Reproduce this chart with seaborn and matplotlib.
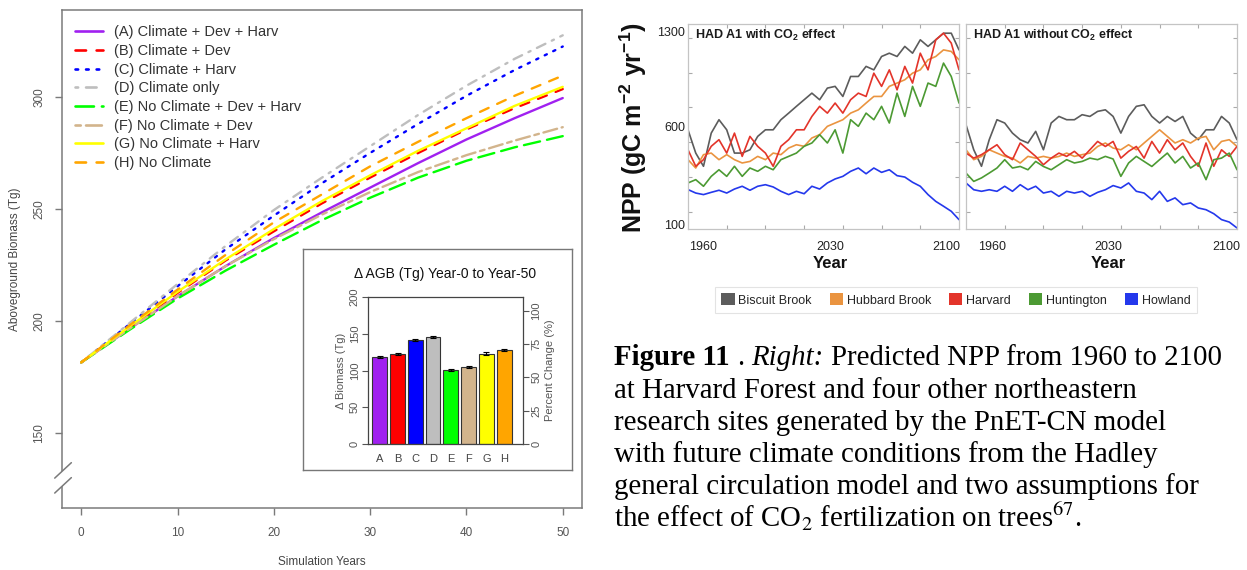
import numpy as np
import pandas as pd
import matplotlib
matplotlib.use("Agg")
import matplotlib.pyplot as plt
import seaborn as sns
from matplotlib.patches import Patch, Polygon
from matplotlib.lines import Line2D

# ---------------- data: left chart (biomass scenarios) ----------------
sim_years = [0, 5, 10, 15, 20, 25, 30, 35, 40, 45, 50]
agb_A = [181.5, 196.5, 211.0, 224.5, 237.0, 248.5, 259.5, 270.5, 281.0, 290.5, 299.5]
agb_B = [181.5, 197.0, 212.5, 227.0, 240.0, 252.5, 264.0, 275.0, 285.5, 295.0, 303.5]
agb_C = [181.5, 198.5, 215.5, 232.0, 247.0, 261.5, 275.0, 288.0, 300.5, 312.0, 322.5]
agb_D = [181.5, 199.0, 216.5, 233.5, 249.5, 264.0, 278.0, 292.0, 305.0, 317.0, 327.5]
agb_E = [181.5, 196.0, 210.0, 222.5, 234.0, 245.0, 255.0, 264.0, 271.5, 277.5, 282.5]
agb_F = [181.5, 196.5, 211.0, 224.5, 236.5, 247.5, 257.5, 266.5, 274.0, 280.5, 286.5]
agb_G = [181.5, 197.5, 213.0, 227.5, 241.0, 253.5, 265.0, 276.0, 286.0, 296.0, 304.5]
agb_H = [181.5, 198.0, 214.0, 229.5, 244.0, 256.5, 269.0, 280.0, 290.5, 300.5, 309.5]

scenario_codes = ["A", "B", "C", "D", "E", "F", "G", "H"]
scenario_labels = ["(A) Climate + Dev + Harv", "(B) Climate + Dev", "(C) Climate + Harv",
                   "(D) Climate only", "(E) No Climate + Dev + Harv", "(F) No Climate + Dev",
                   "(G) No Climate + Harv", "(H) No Climate"]
scenario_colors = ["#A020F0", "#FF0000", "#0000FF", "#BEBEBE", "#00FF00", "#D2B48C", "#FFFF00", "#FFA500"]

# inset bars: change in AGB year 0 -> year 50
delta_agb = [118, 122, 141, 146, 101, 105, 123, 128]
delta_err = [1.5, 1.5, 1.5, 1.5, 1.5, 1.5, 1.5, 1.5]
initial_agb = 181.5

# ---------------- data: right chart (NPP) ----------------
npp_years = list(range(1960, 2101, 4))
site_names = ["Biscuit Brook", "Hubbard Brook", "Harvard", "Huntington", "Howland"]
site_colors = ["#5C5C5C", "#EA9440", "#E3342A", "#4C9A33", "#2438EC"]

co2_biscuit = [671, 537, 461, 652, 729, 671, 537, 537, 556, 633, 671, 671, 729, 767, 806, 844, 882, 844,
               911, 921, 863, 978, 978, 1036, 1016, 1093, 1112, 1093, 1151, 1112, 1189, 1151, 1189, 1227, 1227, 1131]
co2_hubbard = [499, 451, 528, 537, 499, 528, 499, 480, 489, 518, 499, 537, 528, 566, 585, 576, 624, 643,
               691, 710, 729, 767, 786, 825, 863, 863, 921, 940, 959, 997, 1016, 1074, 1093, 1131, 1122, 1074]
co2_harvard = [556, 461, 499, 576, 614, 537, 652, 518, 633, 576, 537, 461, 576, 614, 671, 671, 748, 806,
               767, 825, 767, 844, 882, 863, 997, 921, 1016, 901, 1036, 940, 1112, 1016, 1189, 1227, 1170, 1016]
co2_huntington = [365, 384, 346, 403, 441, 403, 461, 403, 451, 432, 461, 441, 499, 518, 537, 576, 595, 643,
                  595, 671, 537, 729, 691, 767, 729, 806, 710, 882, 748, 921, 806, 940, 921, 1055, 978, 825]
co2_howland = [327, 307, 298, 311, 323, 307, 330, 346, 323, 346, 355, 342, 317, 298, 317, 303, 346, 330,
               365, 388, 403, 432, 451, 418, 451, 426, 441, 407, 399, 369, 346, 298, 259, 231, 202, 154]

noco2_biscuit = [700, 556, 461, 614, 729, 710, 652, 614, 595, 662, 556, 710, 748, 729, 729, 758, 748, 777,
                 786, 748, 652, 748, 806, 815, 748, 710, 748, 719, 748, 652, 614, 671, 671, 748, 710, 614]
noco2_hubbard = [556, 499, 518, 556, 537, 518, 508, 480, 518, 508, 518, 508, 518, 537, 518, 528, 537, 575,
                 595, 566, 556, 585, 556, 595, 633, 671, 633, 595, 614, 595, 623, 633, 556, 604, 614, 575]
noco2_harvard = [537, 508, 528, 556, 585, 528, 499, 595, 556, 518, 470, 508, 537, 518, 547, 508, 556, 604,
                 575, 604, 508, 547, 575, 508, 604, 537, 614, 556, 595, 518, 461, 595, 461, 556, 518, 575]
noco2_huntington = [422, 374, 394, 422, 451, 499, 451, 460, 441, 489, 460, 441, 470, 499, 480, 489, 508, 499,
                    518, 503, 403, 480, 518, 489, 460, 499, 537, 480, 518, 451, 480, 384, 499, 508, 537, 441]
noco2_howland = [365, 326, 317, 326, 317, 346, 317, 355, 326, 346, 307, 317, 288, 317, 307, 317, 288, 311,
                 326, 350, 336, 365, 317, 307, 269, 317, 259, 279, 240, 250, 221, 211, 188, 154, 140, 106]

panel_titles = [r"HAD A1 with CO$_{\mathbf{2}}$ effect", r"HAD A1 without CO$_{\mathbf{2}}$ effect"]

caption_first_runs = [("Figure 11", "bold", "normal"), (".", "normal", "normal"),
                      ("Right:", "normal", "italic"),
                      ("Predicted NPP from 1960 to 2100", "normal", "normal")]
caption_lines = [
    "at Harvard Forest and four other northeastern",
    "research sites generated by the PnET-CN model",
    "with future climate conditions from the Hadley",
    "general circulation model and two assumptions for",
    r"the effect of CO$_{\mathrm{2}}$ fertilization on trees$^{\mathrm{67}}$.",
]

# ---------------- style ----------------
sns.set_theme(style="white")
plt.rcParams["font.family"] = ["Liberation Sans", "DejaVu Sans"]
plt.rcParams["mathtext.fontset"] = "custom"
plt.rcParams["mathtext.rm"] = "Liberation Sans"
plt.rcParams["mathtext.bf"] = "Liberation Sans:bold"
plt.rcParams["mathtext.it"] = "Liberation Sans:italic"
plt.rcParams["lines.dash_capstyle"] = "round"
plt.rcParams["lines.solid_capstyle"] = "round"

W, H = 1247, 570
fig = plt.figure(figsize=(W / 100, H / 100), dpi=100)
fig.patch.set_facecolor("white")


def box(l, t, r, b):
    return [l / W, 1 - b / H, (r - l) / W, (b - t) / H]


# ================= LEFT: biomass lines =================
ax = fig.add_axes(box(62, 10, 582, 508))
series = [agb_A, agb_B, agb_C, agb_D, agb_E, agb_F, agb_G, agb_H]
df = pd.DataFrame({
    "year": sim_years * len(series),
    "agb": sum(series, []),
    "scenario": np.repeat(scenario_codes, len(sim_years)),
})
dash_styles = ["", (4, 4), (1, 3), (1, 3, 4, 3), (7, 3), (2, 2, 6, 2), "", (4, 4)]
sns.lineplot(data=df, x="year", y="agb", hue="scenario", style="scenario",
             palette=dict(zip(scenario_codes, scenario_colors)),
             dashes=dict(zip(scenario_codes, dash_styles)),
             linewidth=1.7, legend=False, ax=ax, estimator=None, sort=False)

axis_gray = "#7A7A7A"
ax.set_xlim(-2, 52)
ax.set_ylim(116.5, 338.8)
ax.set_xticks([0, 10, 20, 30, 40, 50])
ax.set_yticks([150, 200, 250, 300])
for s in ax.spines.values():
    s.set_visible(True)
    s.set_color(axis_gray)
    s.set_linewidth(1.1)
ax.tick_params(axis="both", direction="out", length=5, width=1, color=axis_gray,
               labelcolor="#555555", labelsize=8.5, bottom=True, left=True)
ax.tick_params(axis="x", pad=9)
ax.tick_params(axis="y", pad=7)
plt.setp(ax.get_yticklabels(), rotation=90, va="center")
ax.set_xlabel("Simulation Years", fontsize=8.5, color="#444444", labelpad=12)
ax.set_ylabel("Aboveground Biomass (Tg)", fontsize=8.5, color="#444444", labelpad=9)

handles = []
for c, d in zip(scenario_colors, dash_styles):
    if d == "":
        handles.append(Line2D([0], [0], color=c, lw=1.9, linestyle="-"))
    else:
        handles.append(Line2D([0], [0], color=c, lw=1.9, linestyle=(0, d)))
leg = ax.legend(handles, scenario_labels, loc="upper left", bbox_to_anchor=(0.025, 0.969),
                frameon=False, fontsize=10.5, handlelength=1.9, handletextpad=0.8,
                labelspacing=0.32, borderaxespad=0, borderpad=0)
for t in leg.get_texts():
    t.set_color("#333333")

# axis break on the y axis
tr = ax.transAxes
ax.add_patch(Polygon([(-0.014, 0.030), (0.018, 0.061), (0.018, 0.091), (-0.014, 0.060)],
                     closed=True, facecolor="white", edgecolor="none", transform=tr,
                     clip_on=False, zorder=5))
for y0 in (0.030, 0.060):
    ax.add_line(Line2D([-0.014, 0.018], [y0, y0 + 0.031], transform=tr, color=axis_gray,
                       lw=1.1, clip_on=False, zorder=6))

# ---------------- inset bar chart ----------------
frame = fig.add_axes(box(303, 249, 572, 470))
frame.set_xticks([])
frame.set_yticks([])
frame.set_facecolor("white")
for s in frame.spines.values():
    s.set_visible(True)
    s.set_color("#777777")
    s.set_linewidth(1.0)
frame.set_zorder(3)

axb = fig.add_axes(box(368, 297, 523, 444))
axb.set_zorder(4)
sns.barplot(x=scenario_codes, y=delta_agb, hue=scenario_codes,
            palette=dict(zip(scenario_codes, scenario_colors)), legend=False,
            saturation=1, width=0.83, edgecolor="#333333", linewidth=0.8, ax=axb)
axb.errorbar(range(len(scenario_codes)), delta_agb, yerr=delta_err, fmt="none",
             ecolor="black", elinewidth=0.8, capsize=2, capthick=0.8)
axb.set_xlim(-0.66, 8.06)
axb.set_ylim(0, 200)
axb.set_yticks([0, 50, 100, 150, 200])
for s in axb.spines.values():
    s.set_visible(True)
    s.set_color("#444444")
    s.set_linewidth(0.9)
axb.tick_params(axis="y", direction="out", length=4, width=0.8, color="#555555",
                labelsize=8, labelcolor="#555555", left=True, pad=2)
axb.tick_params(axis="x", length=0, labelsize=8, labelcolor="#444444", pad=7)
plt.setp(axb.get_yticklabels(), rotation=90, va="center")
axb.set_ylabel("\u0394 Biomass (Tg)", fontsize=8, color="#555555", labelpad=3)
axb.set_xlabel("")
axb.set_title("\u0394 AGB (Tg) Year-0 to Year-50", fontsize=10, color="#111111", pad=14)

axb2 = axb.twinx()
axb2.set_zorder(5)
axb2.set_ylim(0, 200 / initial_agb * 100)
axb2.set_yticks([0, 25, 50, 75, 100])
axb2.tick_params(axis="y", direction="out", length=4, width=0.8, color="#555555",
                 labelsize=8, labelcolor="#555555", right=True, pad=2)
plt.setp(axb2.get_yticklabels(), rotation=90, va="center")
axb2.set_ylabel("Percent Change (%)", fontsize=8, color="#555555", labelpad=3)
for s in axb2.spines.values():
    s.set_visible(False)

# ================= RIGHT: NPP panels =================
panel_data = [
    [co2_biscuit, co2_hubbard, co2_harvard, co2_huntington, co2_howland],
    [noco2_biscuit, noco2_hubbard, noco2_harvard, noco2_huntington, noco2_howland],
]
panel_boxes = [(688, 24, 959, 229), (966, 24, 1237, 229)]
year_label_pos = [[0.055, 0.525, 0.955], [0.095, 0.525, 0.962]]

for i, (pb, pdat) in enumerate(zip(panel_boxes, panel_data)):
    axp = fig.add_axes(box(*pb))
    dfn = pd.DataFrame({
        "year": npp_years * len(site_names),
        "npp": sum(pdat, []),
        "site": np.repeat(site_names, len(npp_years)),
    })
    sns.lineplot(data=dfn, x="year", y="npp", hue="site",
                 palette=dict(zip(site_names, site_colors)), linewidth=1.2,
                 legend=False, ax=axp, estimator=None, sort=False)
    axp.set_xlim(1960, 2100)
    axp.set_ylim(100, 1280)
    axp.set_xticks([1980, 2000, 2020, 2040, 2060, 2080])
    axp.set_yticks([200, 400, 600, 800, 1000, 1200])
    axp.tick_params(axis="both", direction="in", length=3, width=0.8, color="#AAAAAA",
                    top=True, right=True, bottom=True, left=True,
                    labelbottom=False, labelleft=False)
    for s in axp.spines.values():
        s.set_visible(True)
        s.set_color("#C4C4C4")
        s.set_linewidth(0.9)
    axp.set_xlabel("")
    axp.set_ylabel("")
    axp.text(0.025, 0.945, panel_titles[i], transform=axp.transAxes, fontsize=9,
             fontweight="bold", va="center", ha="left", color="#1A1A1A")
    for xf, lab in zip(year_label_pos[i], ["1960", "2030", "2100"]):
        axp.text(xf, -0.088, lab, transform=axp.transAxes, fontsize=9, ha="center",
                 va="center", color="#222222")
    axp.text(0.524, -0.166, "Year", transform=axp.transAxes, fontsize=12,
             fontweight="bold", ha="center", va="center", color="#111111")
    if i == 0:
        for yf, lab in zip([0.956, 0.493, 0.015], ["1300", "600", "100"]):
            axp.text(-0.011, yf, lab, transform=axp.transAxes, fontsize=9, ha="right",
                     va="center", color="#222222")

fig.text(633 / W, 1 - 128 / H, r"NPP (gC m$^{\mathbf{-2}}$ yr$^{\mathbf{-1}}$)",
         rotation=90, fontsize=18, fontweight="bold", ha="center", va="center",
         color="#111111")

site_handles = [Patch(facecolor=c, edgecolor="none") for c in site_colors]
sleg = fig.legend(site_handles, site_names, loc="center",
                  bbox_to_anchor=(956 / W, 1 - 300 / H), ncol=5, frameon=True,
                  fancybox=False, fontsize=9, handlelength=1.05, handleheight=1.05,
                  handletextpad=0.3, columnspacing=1.45, borderpad=0.55)
sleg.get_frame().set_edgecolor("#DDDDDD")
sleg.get_frame().set_linewidth(0.8)

# ================= caption =================
cap_fs = 20.8
cap_x = 614
baselines = [365, 397.5, 430, 462, 494.5, 527]
renderer = fig.canvas.get_renderer()


def text_width(s, weight, style):
    t = fig.text(0, 0, s, fontsize=cap_fs, family="Liberation Serif",
                 fontweight=weight, fontstyle=style)
    w = t.get_window_extent(renderer).width
    t.remove()
    return w


space_w = text_width("x x", "normal", "normal") - text_width("xx", "normal", "normal")
xcur = cap_x
for txt, weight, style in caption_first_runs:
    t = fig.text(xcur / W, 1 - baselines[0] / H, txt, fontsize=cap_fs,
                 family="Liberation Serif", fontweight=weight, fontstyle=style,
                 ha="left", va="baseline", color="black")
    xcur += t.get_window_extent(renderer).width + space_w

for line, yb in zip(caption_lines, baselines[1:]):
    fig.text(cap_x / W, 1 - yb / H, line, fontsize=cap_fs, family="Liberation Serif",
             math_fontfamily="stix", ha="left", va="baseline", color="black")

fig.savefig("out.png", dpi=100, facecolor="white")
